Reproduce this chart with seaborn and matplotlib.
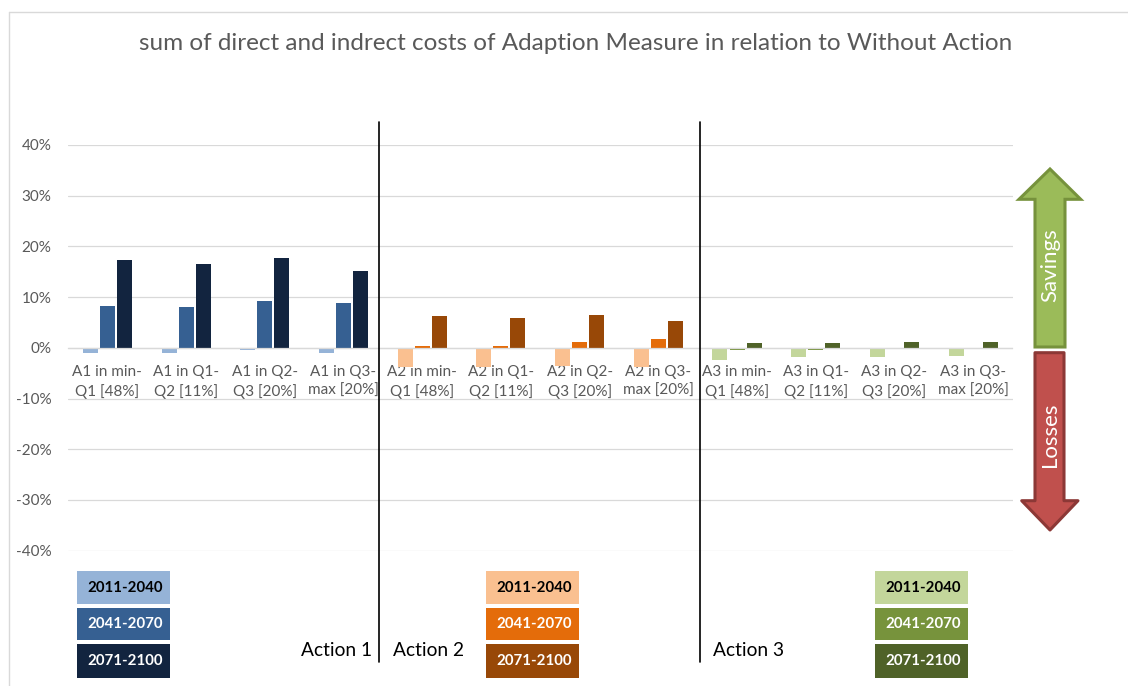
import numpy as np
import pandas as pd
import matplotlib
matplotlib.use('Agg')
import matplotlib.pyplot as plt
import seaborn as sns
from matplotlib.patches import Rectangle, Polygon
from matplotlib.lines import Line2D
from matplotlib.ticker import PercentFormatter

# values, in percent
periods = ['2011-2040', '2041-2070', '2071-2100']
ranges = ['min-\nQ1 [48%]', 'Q1-\nQ2 [11%]', 'Q2-\nQ3 [20%]', 'Q3-\nmax [20%]']
actions = ['A1', 'A2', 'A3']

a1_2011 = [-1.0, -1.0, -0.5, -1.0]
a1_2041 = [8.3, 8.1, 9.3, 8.9]
a1_2071 = [17.4, 16.6, 17.8, 15.2]
a2_2011 = [-3.7, -3.8, -3.6, -3.8]
a2_2041 = [0.45, 0.45, 1.1, 1.8]
a2_2071 = [6.2, 5.8, 6.4, 5.2]
a3_2011 = [-2.3, -1.8, -1.8, -1.6]
a3_2041 = [-0.5, -0.4, -0.1, -0.1]
a3_2071 = [1.0, 1.0, 1.2, 1.2]

blues = ['#95B3D7', '#366092', '#12243F']
oranges = ['#FAC090', '#E46C0A', '#984807']
greens = ['#C3D69B', '#77933C', '#4F6228']

series = {
    'A1': [a1_2011, a1_2041, a1_2071],
    'A2': [a2_2011, a2_2041, a2_2071],
    'A3': [a3_2011, a3_2041, a3_2071],
}
palettes = {'A1': blues, 'A2': oranges, 'A3': greens}

rows = []
for act in actions:
    for p, vals in zip(periods, series[act]):
        for r, v in zip(ranges, vals):
            rows.append({'action': act, 'cat': f'{act} in {r}', 'period': p, 'value': v})
df = pd.DataFrame(rows)
order = [f'{a} in {r}' for a in actions for r in ranges]

sns.set_theme(style='white')
plt.rcParams['font.family'] = ['Lato', 'DejaVu Sans']
plt.rcParams['axes.unicode_minus'] = False

W, H = 1128, 686
fig = plt.figure(figsize=(W / 100, H / 100), dpi=100)


def fx(x):
    return x / W


def fy(y):
    return 1 - y / H


ax = fig.add_axes([fx(68), fy(550.7), fx(1012.5) - fx(68), fy(145) - fy(550.7)])

for act in actions:
    sub = df[df['action'] == act]
    sns.barplot(data=sub, x='cat', y='value', hue='period', order=order,
                hue_order=periods, palette=palettes[act], saturation=1,
                width=0.65, gap=0.12, linewidth=0, legend=False, ax=ax)

ax.set_ylim(-40, 40)
ax.set_yticks(np.arange(-40, 41, 10))
ax.yaxis.set_major_formatter(PercentFormatter(decimals=0))
ax.set_xlabel('')
ax.set_ylabel('')
ax.grid(axis='y', color='#D9D9D9', linewidth=0.9)
ax.set_axisbelow(True)
for s in ['top', 'right', 'left']:
    ax.spines[s].set_visible(False)
ax.spines['bottom'].set_position(('data', 0))
ax.spines['bottom'].set_color('#D9D9D9')
ax.spines['bottom'].set_linewidth(0.9)
ax.tick_params(axis='x', length=0, pad=12, labelsize=11, labelcolor='#595959')
ax.tick_params(axis='y', length=0, pad=12, labelsize=11, labelcolor='#595959')
for lab in ax.get_xticklabels():
    lab.set_linespacing(1.45)

# title
fig.text(fx(576), fy(44), 'sum of direct and indrect costs of Adaption Measure in relation to Without Action',
         ha='center', va='center', fontsize=17.5, color='#595959')

# chart border
fig.add_artist(Line2D([fx(9), 1], [fy(12), fy(12)], color='#D9D9D9', linewidth=1))
fig.add_artist(Line2D([fx(9), fx(9)], [fy(12), 0], color='#D9D9D9', linewidth=1))

# separators between actions
for x in [379, 700]:
    fig.add_artist(Line2D([fx(x), fx(x)], [fy(122), fy(662)], color='black', linewidth=1.2))

fig.text(fx(372), fy(650), 'Action 1', ha='right', va='center', fontsize=13.8, color='black')
fig.text(fx(393), fy(650), 'Action 2', ha='left', va='center', fontsize=13.8, color='black')
fig.text(fx(713), fy(650), 'Action 3', ha='left', va='center', fontsize=13.8, color='black')

# colour key boxes
box_x = {'A1': (76.7, 170), 'A2': (486, 579), 'A3': (875, 968)}
box_y = [(571, 604), (608, 640), (644, 678)]
txt_col = ['black', 'white', 'white']
for act in actions:
    x0, x1 = box_x[act]
    for (y0, y1), col, tc, p in zip(box_y, palettes[act], txt_col, periods):
        fig.add_artist(Rectangle((fx(x0), fy(y1)), fx(x1) - fx(x0), fy(y0) - fy(y1),
                                 transform=fig.transFigure, facecolor=col, edgecolor='none'))
        fig.text(fx(x1 - 7), fy((y0 + y1) / 2), p, ha='right', va='center',
                 fontsize=10.8, fontweight='bold', color=tc)

# savings / losses arrows
up = [(1050, 169), (1080.7, 199.3), (1065, 199.3), (1065, 347), (1035, 347), (1035, 199.3), (1019, 199.3)]
down = [(1035, 352.7), (1064, 352.7), (1064, 500.7), (1078, 500.7), (1050, 530), (1021.7, 500.7), (1035, 500.7)]
fig.add_artist(Polygon([(fx(x), fy(y)) for x, y in up], closed=True, transform=fig.transFigure,
                       facecolor='#9BBB59', edgecolor='#76923C', linewidth=2.2, joinstyle='miter'))
fig.add_artist(Polygon([(fx(x), fy(y)) for x, y in down], closed=True, transform=fig.transFigure,
                       facecolor='#C0504D', edgecolor='#8C3836', linewidth=2.2, joinstyle='round'))
fig.text(fx(1050), fy(265), 'Savings', rotation=90, ha='center', va='center', fontsize=16, color='white')
fig.text(fx(1050), fy(435), 'Losses', rotation=90, ha='center', va='center', fontsize=16, color='white')

fig.savefig('out.png', dpi=100)
